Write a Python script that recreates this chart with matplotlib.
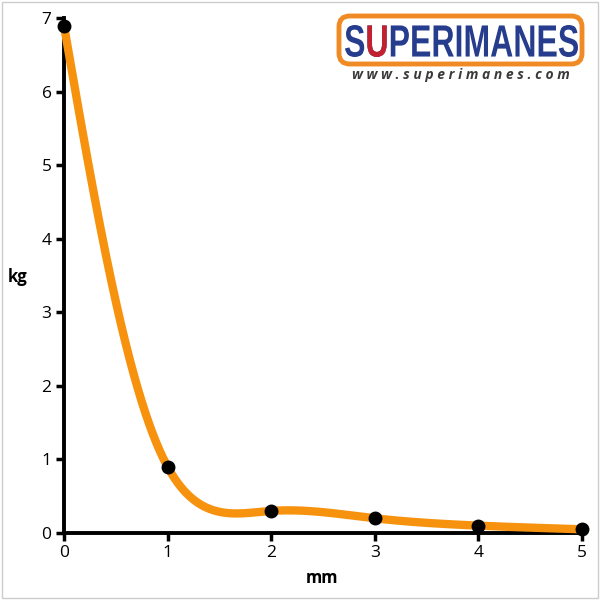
import numpy as np
import matplotlib
matplotlib.use("Agg")
import matplotlib.pyplot as plt
from matplotlib.patches import FancyBboxPatch, Rectangle, PathPatch
from matplotlib.textpath import TextPath
from matplotlib.font_manager import FontProperties
from matplotlib.transforms import Affine2D

x_mm = [0, 1, 2, 3, 4, 5]
y_kg = [6.9, 0.9, 0.3, 0.2, 0.1, 0.05]
x_ticks = [0, 1, 2, 3, 4, 5]
y_ticks = [0, 1, 2, 3, 4, 5, 6, 7]


def natural_spline(xs, ys, xq):
    xs = np.asarray(xs, float); ys = np.asarray(ys, float)
    n = len(xs)
    h = np.diff(xs)
    A = np.zeros((n, n)); b = np.zeros(n)
    A[0, 0] = 1; A[-1, -1] = 1
    for i in range(1, n - 1):
        A[i, i - 1] = h[i - 1]
        A[i, i] = 2 * (h[i - 1] + h[i])
        A[i, i + 1] = h[i]
        b[i] = 6 * ((ys[i + 1] - ys[i]) / h[i] - (ys[i] - ys[i - 1]) / h[i - 1])
    M = np.linalg.solve(A, b)
    xq = np.asarray(xq, float)
    out = np.empty_like(xq)
    for k, xv in enumerate(xq):
        i = min(max(np.searchsorted(xs, xv) - 1, 0), n - 2)
        t0 = xs[i + 1] - xv; t1 = xv - xs[i]
        out[k] = (M[i] * t0**3 + M[i + 1] * t1**3) / (6 * h[i]) \
            + (ys[i] / h[i] - M[i] * h[i] / 6) * t0 \
            + (ys[i + 1] / h[i] - M[i + 1] * h[i] / 6) * t1
    return out


plt.rcParams['font.family'] = ['Open Sans', 'DejaVu Sans']
fig = plt.figure(figsize=(6, 6), dpi=100)
ax = fig.add_axes([0.1067, 0.1117, 0.8633, 0.8575])
ax.set_xlim(0, 5)
ax.set_ylim(0, 7)

# smooth curve through the points (parametric natural spline in display space)
fig.canvas.draw()
disp = ax.transData.transform(np.column_stack([x_mm, y_kg]))
d = np.hypot(np.diff(disp[:, 0]), np.diff(disp[:, 1])) ** 0.17
t = np.concatenate([[0], np.cumsum(d)])
tq = np.linspace(0, t[-1], 3000)
curve_disp = np.column_stack([natural_spline(t, disp[:, 0], tq),
                              natural_spline(t, disp[:, 1], tq)])
curve = ax.transData.inverted().transform(curve_disp)
ax.plot(curve[:, 0], curve[:, 1], color='#f7920f', lw=6,
        solid_capstyle='round', zorder=3, clip_on=False)
ax.plot(x_mm, y_kg, 'o', color='black', ms=9, zorder=4, clip_on=False)

ax.set_xticks(x_ticks)
ax.set_yticks(y_ticks)
for s in ['top', 'right']:
    ax.spines[s].set_visible(False)
for s in ['left', 'bottom']:
    ax.spines[s].set_linewidth(2.8)
    ax.spines[s].set_color('black')
ax.tick_params(direction='out', length=6, width=2.5, labelsize=12.5,
               colors='black', pad=3)

fig.text(18 / 600, 1 - 277 / 600, 'kg', fontsize=12, fontweight='bold',
         ha='center', va='center')
fig.text(322 / 600, 1 - 578 / 600, 'mm', fontsize=12, fontweight='bold',
         ha='center', va='center')

# logo
fig.patches.append(FancyBboxPatch((339 / 600, 1 - 64 / 600), 243 / 600, 48 / 600,
                                  boxstyle='round,pad=0,rounding_size=0.018',
                                  transform=fig.transFigure, facecolor='white',
                                  edgecolor='#f08a24', linewidth=3.5))

fp = FontProperties(family='Liberation Sans', weight='bold')
tp_all = TextPath((0, 0), 'SUPERIMANES', size=50, prop=fp)
ext = tp_all.get_extents()
x0, x1, ytop, ybot = 345, 578, 25, 57
sx = (x1 - x0) / ext.width
sy = (ybot - ytop) / ext.height
tr = Affine2D().translate(-ext.x0, -ext.y0).scale(sx / 600, sy / 600) \
    .translate(x0 / 600, 1 - ybot / 600)
fig.patches.append(PathPatch(tr.transform_path(tp_all), facecolor='#263c8c', lw=0,
                             transform=fig.transFigure, zorder=5))
# magnet-coloured U
tpS = TextPath((0, 0), 'S', size=50, prop=fp)
tpSU = TextPath((0, 0), 'SU', size=50, prop=fp)
u_off = tpSU.get_extents().x1 - TextPath((0, 0), 'U', size=50, prop=fp).get_extents().x1
tpU = TextPath((u_off, 0), 'U', size=50, prop=fp)
fig.patches.append(PathPatch(tr.transform_path(tpU), facecolor='#c42130', lw=0,
                             transform=fig.transFigure, zorder=6))

fig.text(461 / 600, 1 - 75 / 600, 'w w w . s u p e r i m a n e s . c o m',
         fontsize=10, fontweight='bold', style='italic', color='#3a3a3a',
         ha='center', va='center')

fig.patches.append(Rectangle((0.003, 0.003), 0.994, 0.994, transform=fig.transFigure,
                             fill=False, edgecolor='#cccccc', lw=1))

fig.savefig('out.png', dpi=100, facecolor='white')
